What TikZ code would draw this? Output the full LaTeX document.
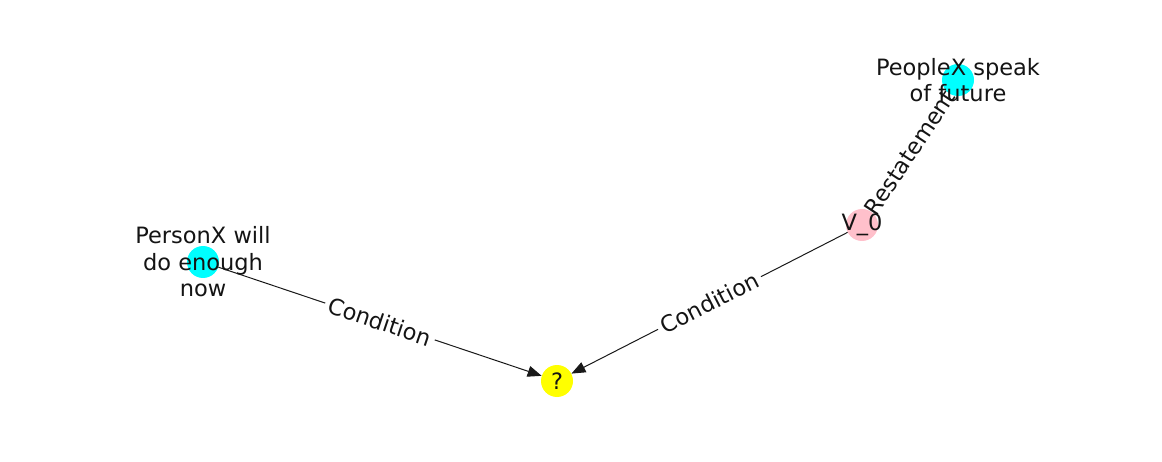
\documentclass[tikz,border=0pt]{standalone}
\usepackage{fontspec}
\setmainfont{DejaVu Sans}
\usetikzlibrary{arrows.meta}
\definecolor{ncyan}{RGB}{0,255,255}
\definecolor{nyellow}{RGB}{255,255,0}
\definecolor{npink}{RGB}{255,192,203}
\begin{document}
\begin{tikzpicture}[x=1pt,y=-1pt,
  dot/.style={circle,minimum size=32pt,inner sep=0pt},
  lbl/.style={font=\fontsize{22.5}{26.5}\selectfont, align=center, text=black!92},
  elbl/.style={font=\fontsize{22.5}{26.5}\selectfont, fill=white, inner sep=4pt, rounded corners=3pt, sloped, text=black!92},
  edge/.style={line width=1pt, draw=black!90, -{Triangle[length=14pt,width=11pt]}}]
\useasboundingbox (0,0) rectangle (1162,462);
% node positions
\node[dot] (px) at (203,262) {};
\node[dot] (q)  at (557,381) {};
\node[dot] (v0) at (862,225) {};
\node[dot] (pp) at (958,80) {};
% edges
\draw[edge] (px) -- node[elbl]{Condition} (q);
\draw[edge] (v0) -- node[elbl]{Condition} (q);
\draw[line width=1pt, draw=black!90] (v0) -- node[elbl]{Restatement} (pp);
% node discs
\node[dot,fill=ncyan] (pxd) at (px) {};
\node[dot,fill=nyellow] (qd) at (q) {};
\node[dot,fill=npink] (v0d) at (v0) {};
\node[dot,fill=ncyan] (ppd) at (pp) {};
% node texts
\node[lbl] (pxt) at (px) {PersonX will\\do enough\\now};
\node[lbl] (qt) at (q) {?};
\node[lbl] (v0t) at (v0) {V\_0};
\node[lbl] (ppt) at (pp) {PeopleX speak\\of future};
\end{tikzpicture}
\end{document}
